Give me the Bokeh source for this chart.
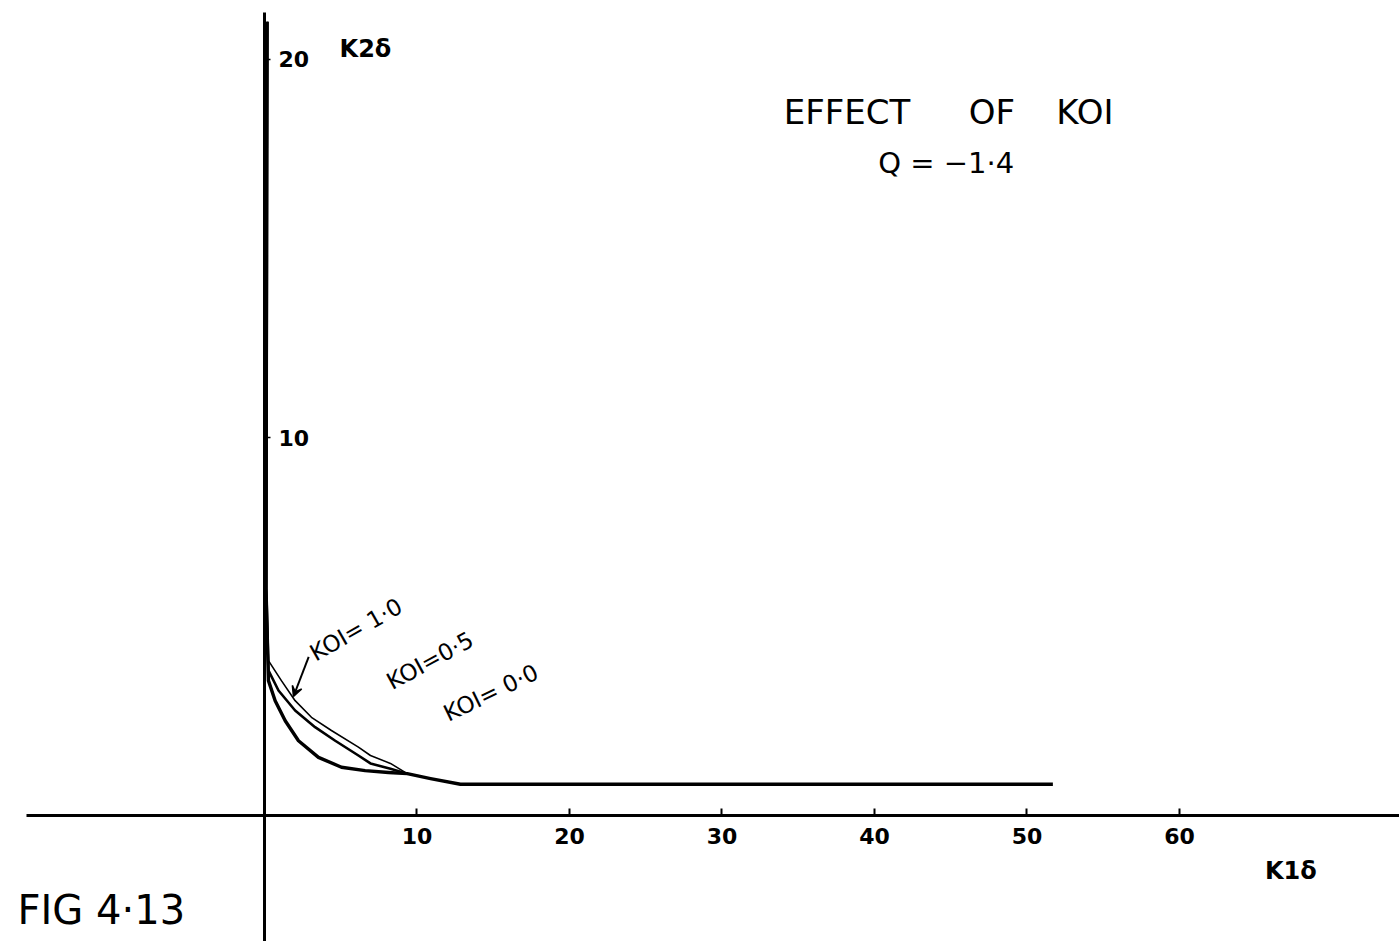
from bokeh.plotting import figure
from bokeh.models import LinearAxis, FixedTicker, Range1d, Arrow, VeeHead
from bokeh.core.properties import value
from bokeh.embed import file_html
from bokeh.resources import INLINE

# ---- data ----
x_ticks = [10, 20, 30, 40, 50, 60]
y_ticks = [10, 20]

# KOI = 0.0 (innermost curve, continues as the flat tail)
koi00_k1 = [0.15, 0.12, 0.1, 0.26, 0.70, 1.36, 2.23, 3.54, 5.05, 6.60, 8.13, 9.36, 10.89, 12.85, 51.7]
koi00_k2 = [21.0, 12.0, 6.0, 3.57, 3.04, 2.51, 1.98, 1.54, 1.28, 1.19, 1.14, 1.11, 0.98, 0.83, 0.83]

# KOI = 0.5 (middle curve)
koi05_k1 = [0.2, 0.15, 0.12, 0.26, 0.92, 2.01, 3.32, 4.64, 6.16, 6.95, 8.26, 9.36]
koi05_k2 = [21.0, 12.0, 6.0, 3.84, 3.31, 2.78, 2.34, 1.98, 1.59, 1.38, 1.24, 1.11]

# KOI = 1.0 (outermost curve)
koi10_k1 = [0.2, 0.15, 0.12, 0.26, 1.11, 2.01, 3.08, 4.39, 6.16, 6.95, 8.26, 9.36]
koi10_k2 = [21.0, 12.0, 6.0, 4.10, 3.57, 3.04, 2.60, 2.25, 1.81, 1.59, 1.38, 1.11]

curve_labels = ["KOI= 1·0", "KOI=0·5", "KOI= 0·0"]
label_x = [6.0, 10.85, 14.85]
label_y = [4.92, 4.10, 3.25]
label_angle = [0.52, 0.50, 0.45]

title_words = ["EFFECT", "OF", "KOI"]
title_x = [38.2, 47.7, 53.8]

arrow_from = (2.9, 4.2)
arrow_to = (1.9, 3.15)

FONT = "DejaVu Sans"

p = figure(width=1399, height=941, output_backend="svg", toolbar_location=None,
           x_range=Range1d(-17.31, 74.43), y_range=Range1d(-3.33, 21.56),
           x_axis_location=None, y_axis_location=None, min_border=0,
           background_fill_color="white", border_fill_color="white")
p.outline_line_color = None
p.xgrid.visible = False
p.ygrid.visible = False

xa = LinearAxis(fixed_location=0, bounds=(-15.6, 74.43),
                ticker=FixedTicker(ticks=x_ticks))
xa.axis_line_width = 3
xa.axis_line_color = "black"
xa.major_tick_in = 7
xa.major_tick_out = 0
xa.major_tick_line_width = 2
xa.minor_tick_line_color = None
xa.major_label_standoff = 12
xa.major_label_text_font = FONT
xa.major_label_text_font_size = "22px"
xa.major_label_text_font_style = "bold"
xa.major_label_text_color = "black"
p.add_layout(xa, "below")

ya = LinearAxis(fixed_location=0, bounds=(-3.33, 21.25),
                ticker=FixedTicker(ticks=y_ticks))
ya.axis_line_width = 3
ya.axis_line_color = "black"
ya.major_tick_in = 0
ya.major_tick_out = 6
ya.major_tick_line_width = 1.5
ya.minor_tick_line_color = None
ya.major_label_standoff = 8
ya.major_label_text_font = FONT
ya.major_label_text_font_size = "22px"
ya.major_label_text_font_style = "bold"
ya.major_label_text_color = "black"
ya.major_label_orientation = "horizontal"
p.add_layout(ya, "right")

# curves
p.line(koi00_k1, koi00_k2, line_color="black", line_width=3.4, line_join="round")
p.line(koi05_k1, koi05_k2, line_color="black", line_width=2.6, line_join="round")
p.line(koi10_k1, koi10_k2, line_color="black", line_width=1.6, line_join="round")

# curve labels
p.text(x=label_x, y=label_y, text=curve_labels, angle=label_angle,
       text_font=value(FONT), text_font_size="23px", text_color="black",
       text_align="center", text_baseline="middle")

p.add_layout(Arrow(end=VeeHead(size=10, line_width=1.5), line_width=2,
                   x_start=arrow_from[0], y_start=arrow_from[1],
                   x_end=arrow_to[0], y_end=arrow_to[1]))

# annotations
p.text(x=title_x, y=[18.6] * len(title_words), text=title_words, text_font=value(FONT),
       text_font_size="34px", text_color="black", text_align="center", text_baseline="middle")
p.text(x=[44.7], y=[17.25], text=["Q = −1·4"], text_font=value(FONT),
       text_font_size="29px", text_color="black", text_align="center", text_baseline="middle")
p.text(x=[6.62], y=[20.29], text=["K2δ"], text_font=value(FONT), text_font_style="bold",
       text_font_size="24px", text_color="black", text_align="center", text_baseline="middle")
p.text(x=[67.3], y=[-1.46], text=["K1δ"], text_font=value(FONT), text_font_style="bold",
       text_font_size="24px", text_color="black", text_align="center", text_baseline="middle")
p.text(x=[-10.7], y=[-2.51], text=["FIG 4·13"], text_font=value(FONT),
       text_font_size="40px", text_color="black", text_align="center", text_baseline="middle")

open("out.html", "w").write(file_html(p, INLINE))
